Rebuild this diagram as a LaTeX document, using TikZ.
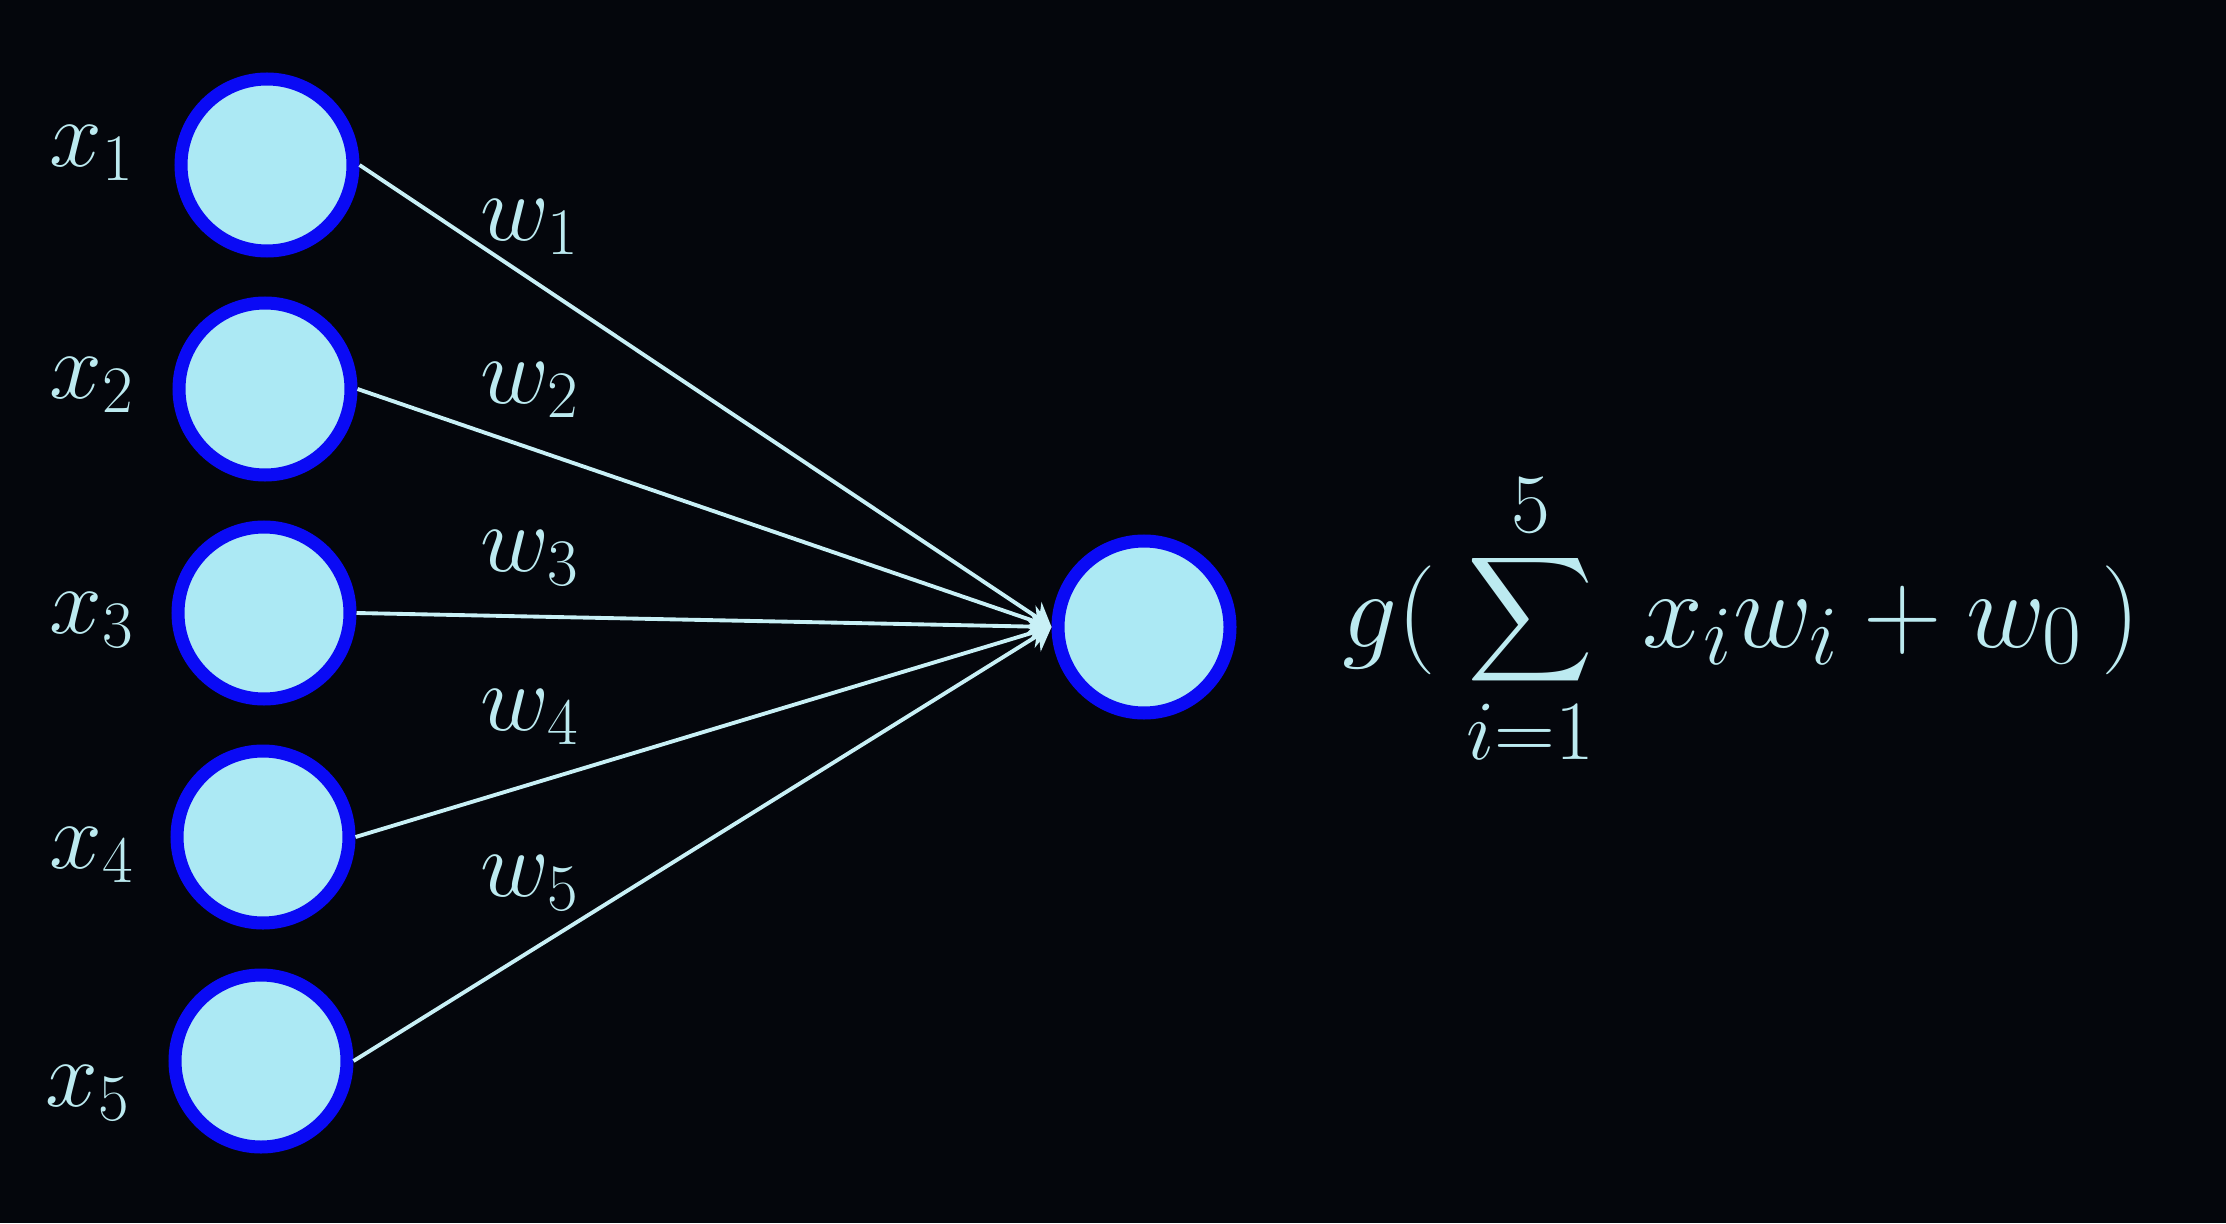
\RequirePackage{fix-cm}
\documentclass[tikz,border=0pt]{standalone}
\usepackage{tikz}
\usetikzlibrary{arrows.meta}
\usepackage{amsmath}
\usepackage{xcolor}

\DeclareMathSizes{31}{31}{24}{19}

\definecolor{bgcol}{RGB}{4,6,12}
\definecolor{cellfill}{RGB}{172,233,244}
\definecolor{cellrim}{RGB}{10,10,245}
\definecolor{wirecol}{RGB}{200,240,246}
\definecolor{inkcol}{RGB}{188,234,240}

\tikzset{
	unit/.style={circle, draw=cellrim, fill=cellfill, line width=3.7pt, minimum size=1.72cm, inner sep=0pt},
	wire/.style={wirecol, line width=1.1pt, -{Stealth[length=2.2mm, width=3mm]}},
	lbl/.style={inkcol, font=\fontsize{27}{32}\selectfont}
}

\begin{document}
\begin{tikzpicture}
	\fill [bgcol] (0,0) rectangle (22.26,12.23);
	\useasboundingbox (0,0) rectangle (22.26,12.23);
	% input units
	\node [unit] (in1) at (2.67,10.58) {};
	\node [unit] (in2) at (2.65,8.34) {};
	\node [unit] (in3) at (2.64,6.10) {};
	\node [unit] (in4) at (2.63,3.86) {};
	\node [unit] (in5) at (2.61,1.62) {};
	% output unit
	\node [unit] (out) at (11.44,5.96) {};
	% connections
	\draw [wire] (in1.east) -- (out.west);
	\draw [wire] (in2.east) -- (out.west);
	\draw [wire] (in3.east) -- (out.west);
	\draw [wire] (in4.east) -- (out.west);
	\draw [wire] (in5.east) -- (out.west);
	% input labels
	\node [lbl] (x1) at (0.92,10.70) {$x_1$};
	\node [lbl] (x2) at (0.92,8.38) {$x_2$};
	\node [lbl] (x3) at (0.92,6.03) {$x_3$};
	\node [lbl] (x4) at (0.92,3.68) {$x_4$};
	\node [lbl] (x5) at (0.88,1.30) {$x_5$};
	% weight labels
	\node [lbl] (w1) at (5.30,9.96) {$w_1$};
	\node [lbl] (w2) at (5.30,8.33) {$w_2$};
	\node [lbl] (w3) at (5.30,6.65) {$w_3$};
	\node [lbl] (w4) at (5.30,5.06) {$w_4$};
	\node [lbl] (w5) at (5.30,3.40) {$w_5$};
	% activation
	\node [lbl, font=\fontsize{31}{36}\selectfont, anchor=base west, inner sep=0pt] (act) at (13.42,5.76) {$\displaystyle g(\;\sum_{i=1}^{5}\; x_i w_i + w_0\,)$};
\end{tikzpicture}
\end{document}
